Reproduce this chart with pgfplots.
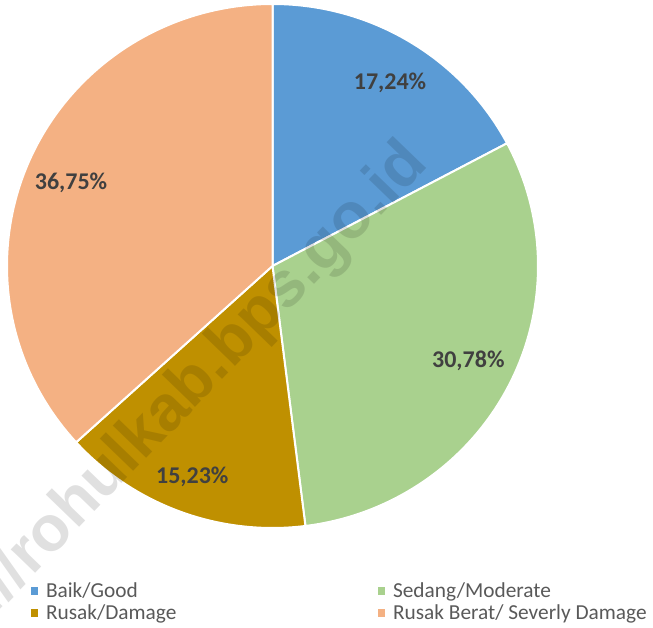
\documentclass[border=0pt]{standalone}
\usepackage{pgfplots}
\pgfplotsset{compat=1.18}
\usepackage{pgfplotstable}
\usepackage{fontspec}
\setmainfont{Carlito}
\newfontfamily\wmfont{Liberation Sans}
\definecolor{cBaik}{HTML}{5B9BD5}
\definecolor{cSedang}{HTML}{A9D18E}
\definecolor{cRusak}{HTML}{BF9000}
\definecolor{cBerat}{HTML}{F4B183}
\definecolor{lblgray}{HTML}{404040}
\definecolor{leggray}{HTML}{595959}
\newcommand\lblfont{\fontsize{18}{20}\selectfont\bfseries}

\pgfplotstableread{
name value col lx ly
Baik 17.24 cBaik 0.4426 0.6985
Sedang 30.78 cSedang 0.7375 -0.3637
Rusak 15.23 cRusak -0.3021 -0.8053
Berat 36.75 cBerat -0.7589 0.3187
}\piedata

\begin{document}
\begin{tikzpicture}
\useasboundingbox (0,0) rectangle (489.75pt,471pt);
\begin{axis}[at={(5.25pt,75pt)}, anchor=south west, scale only axis,
  width=398.25pt, height=393pt, xmin=-1, xmax=1, ymin=-1, ymax=1,
  hide axis, clip=false,
  legend columns=2, legend cell align=left,
  legend style={at={(rel axis cs:0.04457,-0.1028)}, anchor=north west,
    draw=none, fill=none, inner sep=0pt, outer sep=0pt,
    column sep=0pt, row sep=2.8pt,
    font=\fontsize{16}{18}\selectfont, text=leggray,
    nodes={inner sep=0pt, text height=12pt, text depth=1.7pt}},
  legend image code/.code={\fill[#1, draw=none] (0pt,-2.9pt) rectangle (5.7pt,2.9pt); \path[draw=none, fill=none] (0pt,-0.1pt) rectangle (11.5pt,0.1pt);},
]
\def\cum{0}
\pgfplotsforeachungrouped \i in {0,1,2,3}{%
  \pgfplotstablegetelem{\i}{value}\of\piedata \let\val\pgfplotsretval
  \pgfplotstablegetelem{\i}{col}\of\piedata \let\col\pgfplotsretval
  \pgfmathsetmacro\sa{90-3.6*\cum}%
  \pgfmathsetmacro\ea{90-3.6*(\cum+\val)}%
  \edef\cmd{\noexpand\fill[\col, draw=white, line width=1.5pt, line join=round] (axis cs:0,0) -- (axis cs:{cos(\sa)},{sin(\sa)}) arc[start angle=\sa, end angle=\ea, x radius=1, y radius=1] -- cycle;}%
  \cmd
  \pgfmathsetmacro\cum{\cum+\val}%
}
\pgfplotsforeachungrouped \i in {0,1,2,3}{%
  \pgfplotstablegetelem{\i}{value}\of\piedata \let\val\pgfplotsretval
  \pgfplotstablegetelem{\i}{lx}\of\piedata \let\lx\pgfplotsretval
  \pgfplotstablegetelem{\i}{ly}\of\piedata \let\ly\pgfplotsretval
  \edef\cmd{\noexpand\node[font=\noexpand\lblfont, text=lblgray] at (axis cs:\lx,\ly) {\noexpand\pgfmathprintnumber[fixed,fixed zerofill,precision=2,use comma,assume math mode=true]{\val}\noexpand\%};}%
  \cmd
}
\addlegendimage{cBaik}\addlegendentry{\makebox[248.8pt][l]{Baik/Good}}
\addlegendimage{cSedang}\addlegendentry{Sedang/Moderate}
\addlegendimage{cRusak}\addlegendentry{\makebox[248.8pt][l]{Rusak/Damage}}
\addlegendimage{cBerat}\addlegendentry{Rusak Berat/ Severly Damage}
\end{axis}
\node[font=\wmfont\bfseries\fontsize{48}{50}\selectfont, text=black, opacity=0.12, rotate=46, anchor=base east, inner sep=0pt] at (322.5pt,347.25pt) {https://rohulkab.bps.go.id};
\end{tikzpicture}
\end{document}
